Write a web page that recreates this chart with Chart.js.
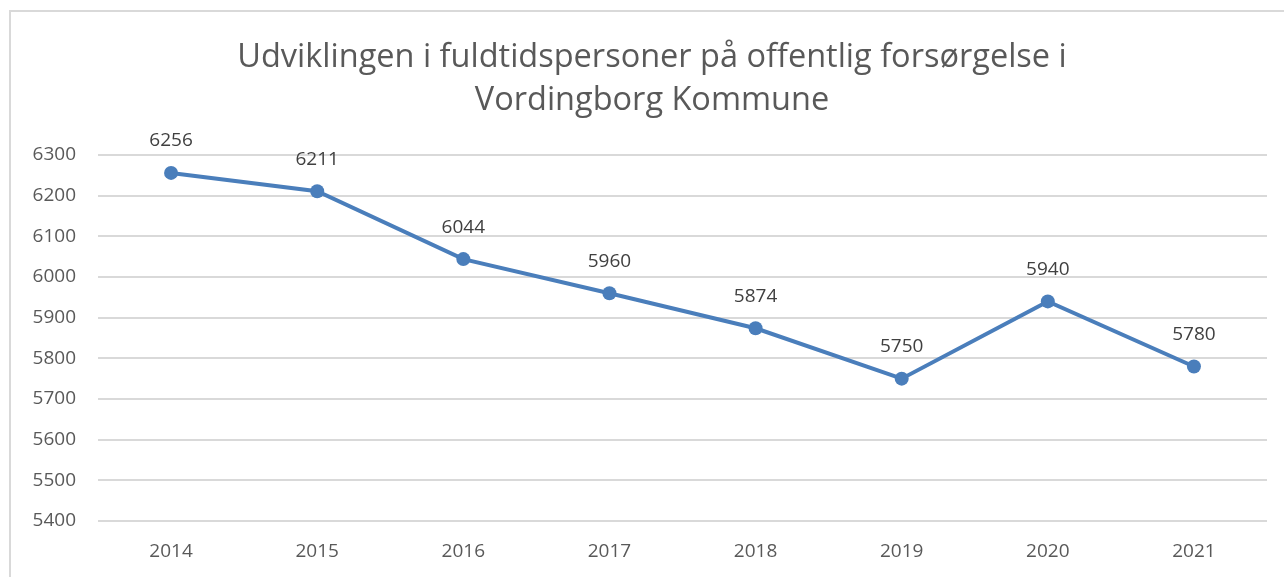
<!DOCTYPE html>
<html lang="da">

<head>
    <meta charset="UTF-8">
    <title>Fuldtidspersoner på offentlig forsørgelse</title>
    <script src="https://cdn.jsdelivr.net/npm/chart.js"></script>
    <style>
        html, body { margin: 0; padding: 0; background: #fff; overflow: hidden; }
        .chart-box {
            position: absolute;
            left: 9px;
            top: 10px;
            width: 1290px;
            height: 580px;
            border: 2px solid #d9d9d9;
            box-sizing: border-box;
        }
        .chart-box canvas { display: block; }
    </style>
</head>

<body>
    <div class="chart-box">
        <canvas id="forsorgelse" width="1273" height="565"></canvas>
    </div>
    <script>
        // data
        const years = ['2014', '2015', '2016', '2017', '2018', '2019', '2020', '2021'];
        const persons = [6256, 6211, 6044, 5960, 5874, 5750, 5940, 5780];
        const yTicks = [5400, 5500, 5600, 5700, 5800, 5900, 6000, 6100, 6200, 6300];
        const titleLines = ['Udviklingen i fuldtidspersoner på offentlig forsørgelse i', 'Vordingborg Kommune'];

        const fontFam = "'Open Sans', 'Liberation Sans', sans-serif";
        const lineColor = '#4a7ebb';

        // titel, lidt til højre for midten som i Excel
        const titlePlugin = {
            id: 'titlePlugin',
            afterDraw(chart) {
                const ctx = chart.ctx;
                ctx.save();
                ctx.font = '32.5px ' + fontFam;
                ctx.fillStyle = '#595959';
                ctx.textAlign = 'center';
                ctx.textBaseline = 'middle';
                titleLines.forEach((t, i) => ctx.fillText(t, 641, 46 + i * 43));
                ctx.restore();
            }
        };

        // tal over punkterne
        const valueLabels = {
            id: 'valueLabels',
            afterDatasetsDraw(chart) {
                const ctx = chart.ctx;
                const meta = chart.getDatasetMeta(0);
                ctx.save();
                ctx.font = '19px ' + fontFam;
                ctx.fillStyle = '#404040';
                ctx.textAlign = 'center';
                ctx.textBaseline = 'middle';
                meta.data.forEach((pt, i) => {
                    ctx.fillText(chart.data.datasets[0].data[i], pt.x, pt.y - 32);
                });
                ctx.restore();
            }
        };

        const ctx = document.getElementById('forsorgelse').getContext('2d');
        const chart = new Chart(ctx, {
            type: 'line',
            data: {
                labels: years,
                datasets: [{
                    label: 'Fuldtidspersoner',
                    data: persons,
                    borderColor: lineColor,
                    backgroundColor: lineColor,
                    borderWidth: 4,
                    pointRadius: 7,
                    pointBorderWidth: 0,
                    tension: 0
                }]
            },
            options: {
                responsive: false,
                animation: false,
                layout: { padding: { top: 143, right: 17, bottom: 0, left: 0 } },
                plugins: {
                    legend: { display: false },
                    tooltip: { enabled: false },
                    title: { display: false }
                },
                scales: {
                    x: {
                        offset: true,
                        grid: { display: false, drawTicks: false },
                        border: { display: false },
                        ticks: { color: '#595959', font: { family: fontFam, size: 19 }, padding: 19 },
                        afterFit(scale) { scale.height = 56; }
                    },
                    y: {
                        min: 5400,
                        max: 6300,
                        afterBuildTicks(scale) { scale.ticks = yTicks.map(v => ({ value: v })); },
                        grid: { color: '#d9d9d9', lineWidth: 2, drawTicks: false },
                        border: { display: false },
                        ticks: {
                            color: '#595959',
                            font: { family: fontFam, size: 19 },
                            padding: 22,
                            callback: v => String(v)
                        },
                        afterFit(scale) { scale.width = 87; }
                    }
                }
            },
            plugins: [valueLabels, titlePlugin]
        });
    </script>
</body>

</html>
